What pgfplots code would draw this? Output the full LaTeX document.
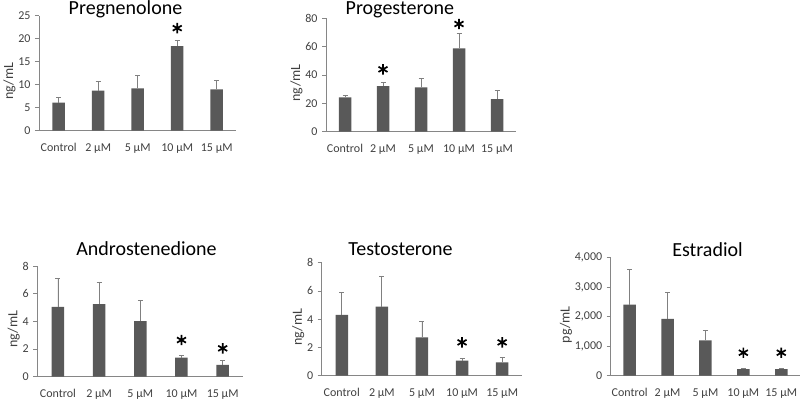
\documentclass[border=0pt]{standalone}
\usepackage{pgfplots}
\pgfplotsset{compat=1.18}
\usepackage{fontspec}
\setmainfont{Carlito}
\definecolor{barcol}{RGB}{89,89,89}
\definecolor{errcol}{RGB}{128,128,128}
\definecolor{axisgray}{RGB}{134,134,134}
\definecolor{tickcol}{RGB}{64,64,64}
\pgfplotsset{
  panel/.style={
    scale only axis, anchor=south west,
    xmin=-0.5, xmax=4.5, ymin=0,
    axis x line*=bottom, axis y line*=left,
    axis line style={draw=axisgray, line width=0.8pt},
    xtick={0,1,2,3,4},
    xticklabels={Control, 2 µM, 5 µM, 10 µM, 15 µM},
    x tick style={draw=none},
    y tick style={draw=axisgray, line width=0.8pt},
    tick align=outside, major tick length=4pt,
    ticklabel style={font=\fontsize{12}{14}\selectfont, text=tickcol},
    xticklabel style={yshift=-4.5pt, text height=9pt, text depth=3pt},
    yticklabel style={xshift=-1pt},
    /pgf/number format/assume math mode=true,
    ylabel style={font=\fontsize{14}{16}\selectfont, text=tickcol, at={(ticklabel cs:0.43)}},
    ylabel shift=-4pt,
    title style={font=\fontsize{20}{24}\selectfont, anchor=base},
    ylabel={ng/mL},
    clip=false,
  },
  bars/.style={ybar, bar width=12.5pt, fill=barcol, draw=none,
    error bars/.cd, y dir=plus, y explicit,
    error bar style={errcol, line width=0.8pt},
    error mark options={rotate=90, errcol, mark size=2.5pt, line width=0.8pt}},
  stars/.style={only marks, mark=asterisk, mark size=5.2pt,
    mark options={line width=1.7pt, black}},
}
\begin{document}
\begin{tikzpicture}[x=1pt,y=1pt]
\useasboundingbox (0,0) rectangle (800,400);

% Pregnenolone
\begin{axis}[panel, at={(39pt,269.3pt)}, width=197.5pt, height=115pt,
  ymax=25, ytick={0,5,10,15,20,25},
  title={Pregnenolone}, title style={at={(0.438,1)}, yshift=-4.5pt}]
\addplot[bars] coordinates {(0,6.1) +- (0,1.1) (1,8.7) +- (0,1.95) (2,9.2) +- (0,2.9) (3,18.4) +- (0,1.3) (4,9.0) +- (0,1.9)};
\addplot[stars] coordinates {(3,22.3)};
\end{axis}

% Progesterone
\begin{axis}[panel, at={(326pt,268.3pt)}, width=190pt, height=113.4pt,
  ymax=80, ytick={0,20,40,60,80},
  title={Progesterone}, title style={at={(0.389,1)}, yshift=-2pt}]
\addplot[bars] coordinates {(0,24.3) +- (0,1.6) (1,32.2) +- (0,2.4) (2,31.3) +- (0,6.4) (3,58.8) +- (0,10.6) (4,22.9) +- (0,6.5)};
\addplot[stars] coordinates {(1,44) (3,76)};
\end{axis}

% Androstenedione
\begin{axis}[panel, at={(37.3pt,23.3pt)}, width=206pt, height=110.7pt,
  ymax=8, ytick={0,2,4,6,8},
  title={Androstenedione}, title style={at={(0.53,1)}, yshift=5pt}]
\addplot[bars] coordinates {(0,5.05) +- (0,2.05) (1,5.25) +- (0,1.6) (2,4.02) +- (0,1.52) (3,1.37) +- (0,0.18) (4,0.85) +- (0,0.31)};
\addplot[stars] coordinates {(3,2.65) (4,2.05)};
\end{axis}

% Testosterone
\begin{axis}[panel, at={(321.7pt,24.3pt)}, width=200.5pt, height=113pt,
  ymax=8, ytick={0,2,4,6,8},
  title={Testosterone}, title style={at={(0.393,1)}, yshift=1.7pt}]
\addplot[bars] coordinates {(0,4.3) +- (0,1.58) (1,4.89) +- (0,2.11) (2,2.72) +- (0,1.13) (3,1.06) +- (0,0.17) (4,0.95) +- (0,0.35)};
\addplot[stars] coordinates {(3,2.36) (4,2.36)};
\end{axis}

% Estradiol
\begin{axis}[panel, at={(610.7pt,24.3pt)}, width=189.5pt, height=118.4pt,
  ymax=4000, ytick={0,1000,2000,3000,4000}, scaled y ticks=false,
  yticklabel style={/pgf/number format/.cd, fixed, 1000 sep={,}},
  ylabel={pg/mL},
  title={Estradiol}, title style={at={(0.511,1)}, yshift=-5.4pt}]
\addplot[bars] coordinates {(0,2400) +- (0,1200) (1,1920) +- (0,900) (2,1190) +- (0,330) (3,220) +- (0,30) (4,220) +- (0,25)};
\addplot[stars] coordinates {(3,777) (4,777)};
\end{axis}
\end{tikzpicture}
\end{document}
